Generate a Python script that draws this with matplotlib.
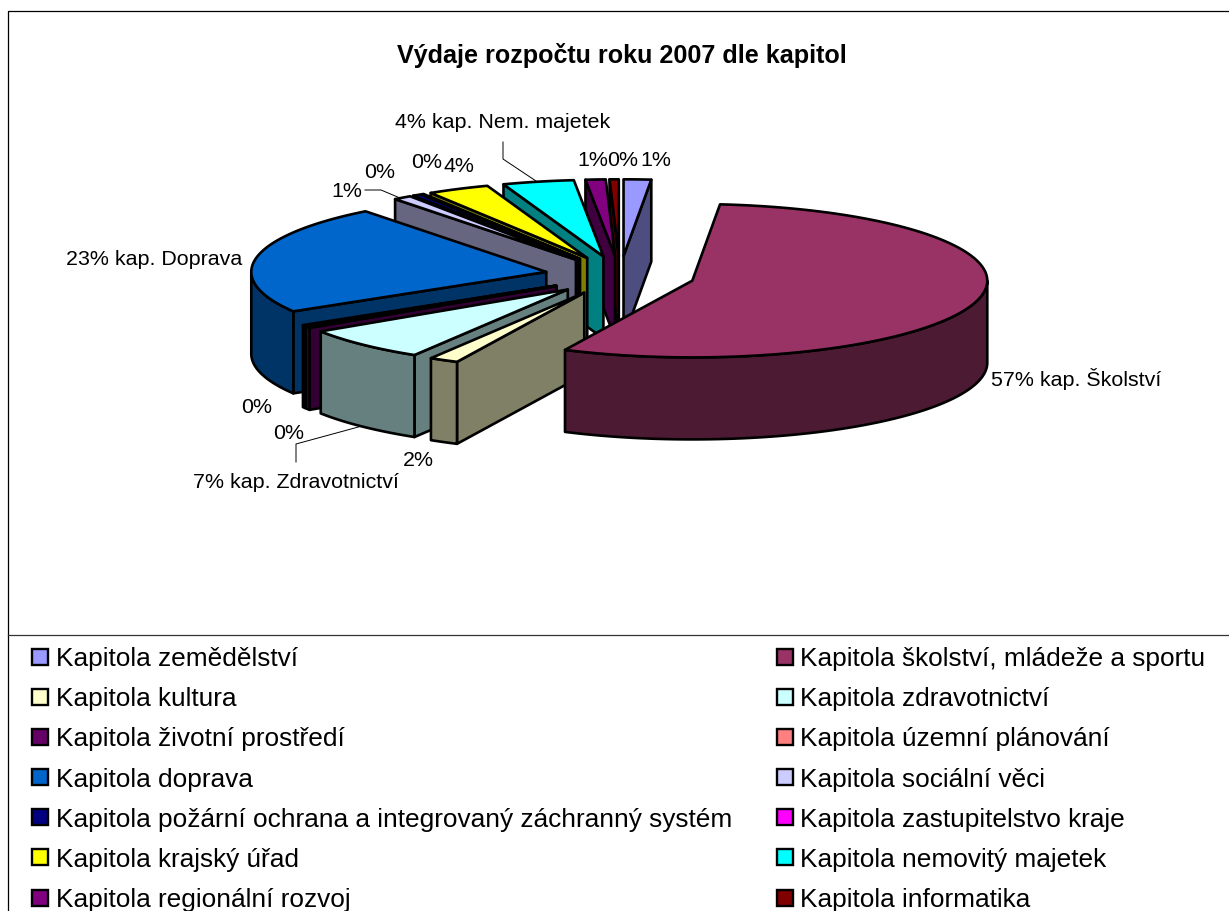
import numpy as np
import matplotlib
matplotlib.use("Agg")
import matplotlib.pyplot as plt
from matplotlib.patches import Polygon, Rectangle

plt.rcParams['font.family'] = ['Liberation Sans', 'DejaVu Sans']

names = ["Kapitola zemědělství", "Kapitola školství, mládeže a sportu", "Kapitola kultura",
         "Kapitola zdravotnictví", "Kapitola životní prostředí", "Kapitola územní plánování",
         "Kapitola doprava", "Kapitola sociální věci",
         "Kapitola požární ochrana a integrovaný záchranný systém", "Kapitola zastupitelstvo kraje",
         "Kapitola krajský úřad", "Kapitola nemovitý majetek",
         "Kapitola regionální rozvoj", "Kapitola informatika"]
values = [1.5, 55.6, 1.6, 7.1, 0.4, 0.2, 23.1, 1.0, 0.5, 0.1, 3.4, 3.9, 1.1, 0.5]
colors = ["#9999FF", "#993366", "#FFFFCC", "#CCFFFF", "#660066", "#FF8080", "#0066CC",
          "#CCCCFF", "#000080", "#FF00FF", "#FFFF00", "#00FFFF", "#800080", "#800000"]
draw_order = [0, 13, 12, 11, 10, 9, 8, 7, 6, 5, 4, 3, 2, 1]

# pie shape, pixels
cx, cy = 620, 276.5
R = 295
squash = 0.26
depth = 82
explode = 75
lw = 1.9

fig = plt.figure(figsize=(12.29, 9.12), dpi=100)
ax = fig.add_axes([0, 0, 1, 1])
ax.set_xlim(0, 1229)
ax.set_ylim(912, 0)
ax.axis('off')


def pt(t, r, x0=0, y0=0):
    t = np.radians(t)
    return x0 + r * np.sin(t), y0 - r * squash * np.cos(t)


def dark(c):
    return tuple(v * 0.5 for v in matplotlib.colors.to_rgb(c))


def poly(xs, ys, col):
    ax.add_patch(Polygon(np.column_stack([xs, ys]), closed=True, facecolor=col, edgecolor='black',
                         linewidth=lw, joinstyle='round'))


edges = np.cumsum([0] + values) / sum(values) * 360

for i in draw_order:
    t0, t1 = edges[i], edges[i + 1]
    mid = (t0 + t1) / 2
    ax0, ay0 = pt(mid, explode, cx, cy)
    wall = dark(colors[i])

    # side walls that face the viewer
    if np.cos(np.radians(t0 - 90)) < 0:
        x, y = pt(t0, R, ax0, ay0)
        poly([ax0, x, x, ax0], [ay0, y, y + depth, ay0 + depth], wall)
    if np.cos(np.radians(t1 + 90)) < 0:
        x, y = pt(t1, R, ax0, ay0)
        poly([ax0, x, x, ax0], [ay0, y, y + depth, ay0 + depth], wall)

    # outer wall, front part only
    a, b = max(t0, 90), min(t1, 270)
    if b > a:
        ts = np.linspace(a, b, 80)
        x, y = pt(ts, R, ax0, ay0)
        poly(np.r_[x, x[::-1]], np.r_[y, (y + depth)[::-1]], wall)

    ts = np.linspace(t0, t1, 120)
    x, y = pt(ts, R, ax0, ay0)
    poly(np.r_[ax0, x], np.r_[ay0, y], colors[i])

# frame
ax.plot([8, 8, 1229], [912, 12, 12], color='black', lw=0.9)
ax.plot([8, 1229], [636, 636], color='#333333', lw=0.9)

ax.text(622, 55, "Výdaje rozpočtu roku 2007 dle kapitol", ha='center', va='center',
        fontsize=18.1, fontweight='bold')

pie_labels = [("4% kap. Nem. majetek", 395, 123), ("1%", 331, 192), ("0%", 364, 173), ("0%", 411, 163),
              ("4%", 444, 166), ("1%", 577, 160), ("0%", 607, 160), ("1%", 640, 160),
              ("57% kap. Školství", 991, 379), ("23% kap. Doprava", 66, 260), ("0%", 241, 408),
              ("0%", 273, 434), ("7% kap. Zdravotnictví", 193, 483), ("2%", 403, 461)]
for s, x, y in pie_labels:
    ax.text(x, y, s, ha='left', va='center', fontsize=15.4)

# leader lines
leaders = [([503, 503, 536], [143, 160, 182]), ([365, 381, 400], [191, 191, 199]),
           ([296, 296, 362], [463, 445, 427])]
for xs, ys in leaders:
    ax.plot(xs, ys, color='black', lw=0.7)

# legend
for i, name in enumerate(names):
    row = i // 2
    x = 32 if i % 2 == 0 else 777
    y = 657.5 + row * 40.2
    ax.add_patch(Rectangle((x, y - 8), 16, 16, facecolor=colors[i], edgecolor='black', linewidth=1.7))
    ax.text(x + 24 if i % 2 == 0 else x + 23.5, y + 1.5, name, ha='left', va='center', fontsize=18.9)

fig.savefig("out.png", dpi=100)
